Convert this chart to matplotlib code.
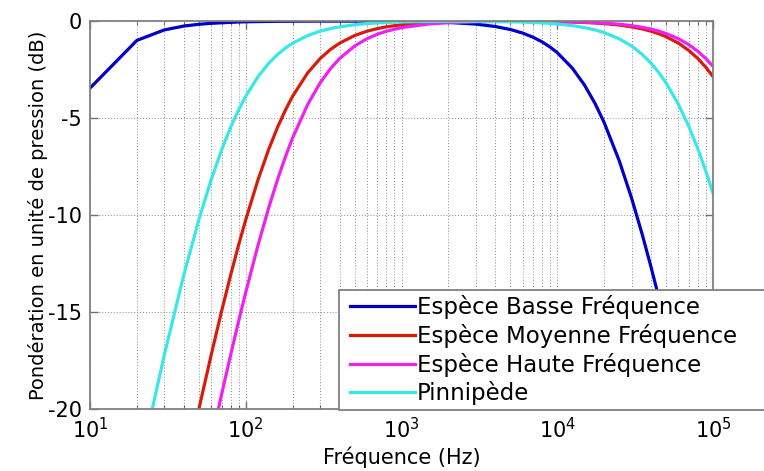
import matplotlib
matplotlib.use("Agg")
import matplotlib.pyplot as plt
from matplotlib.lines import Line2D
from matplotlib.legend_handler import HandlerLine2D
from matplotlib.ticker import LogLocator, NullFormatter, FixedLocator, FixedFormatter

# ---- data ----
freq_hz = [10, 20, 30, 40, 50, 60, 70, 80, 90,
           100, 120, 140, 160, 180, 200, 250, 300, 350, 400, 500, 600, 700, 800,
           1000, 1500, 2000, 3000, 4000, 5000, 6000, 7000, 8000, 9000,
           10000, 12500, 15000, 17500, 20000, 25000, 30000, 35000, 40000, 45000,
           50000, 60000, 70000, 80000, 90000, 100000]

lf_db = [-3.46, -1.00, -0.46, -0.26, -0.17, -0.12, -0.09, -0.07, -0.05,
         -0.04, -0.03, -0.022, -0.017, -0.013, -0.011, -0.007, -0.005, -0.006,
         -0.006, -0.006, -0.008, -0.010, -0.012,
         -0.018, -0.041, -0.072, -0.160, -0.283, -0.438, -0.623, -0.838, -1.079, -1.344,
         -1.631, -2.430, -3.316, -4.258, -5.232, -7.202, -9.126, -10.958, -12.68,
         -14.293, -15.80, -18.52, -20.93, -23.06, -24.98, -26.71]

mf_db = [-47.08, -35.16, -28.30, -23.56, -20.00, -17.21, -14.95, -13.09, -11.54,
         -10.24, -8.173, -6.641, -5.478, -4.581, -3.876, -2.671, -1.938, -1.465,
         -1.143, -0.749, -0.527, -0.390, -0.300,
         -0.194, -0.087, -0.050, -0.025, -0.018, -0.016, -0.018, -0.021, -0.025, -0.030,
         -0.036, -0.054, -0.077, -0.104, -0.135, -0.210, -0.300, -0.406, -0.527,
         -0.661, -0.809, -1.143, -1.521, -1.938, -2.388, -2.864]

hf_db = [-52.06, -40.09, -33.15, -28.30, -24.61, -21.66, -19.24, -17.21, -15.47,
         -13.98, -11.545, -9.660, -8.173, -6.984, -6.021, -4.297, -3.194, -2.454,
         -1.938, -1.289, -0.915, -0.682, -0.527,
         -0.341, -0.154, -0.088, -0.041, -0.026, -0.021, -0.019, -0.020, -0.023, -0.026,
         -0.030, -0.044, -0.062, -0.083, -0.107, -0.166, -0.238, -0.322, -0.419,
         -0.527, -0.646, -0.915, -1.223, -1.566, -1.938, -2.336]

pw_db = [-35.16, -23.56, -17.21, -13.09, -10.24, -8.173, -6.641, -5.478, -4.581,
         -3.876, -2.864, -2.192, -1.725, -1.390, -1.143, -0.749, -0.527, -0.390,
         -0.300, -0.193, -0.135, -0.099, -0.076,
         -0.050, -0.025, -0.018, -0.019, -0.028, -0.041, -0.057, -0.076, -0.099, -0.125,
         -0.154, -0.238, -0.341, -0.460, -0.597, -0.915, -1.289, -1.711, -2.174,
         -2.671, -3.194, -4.297, -5.442, -6.599, -7.748, -8.874]

series_labels = ["Espèce Basse Fréquence", "Espèce Moyenne Fréquence",
                 "Espèce Haute Fréquence", "Pinnipède"]
series_colors = ["#0000c8", "#d81c0c", "#f020f0", "#38e8e8"]

x_ticks = [10, 100, 1000, 10000, 100000]
x_tick_labels = [r"$10^{1}$", r"$10^{2}$", r"$10^{3}$", r"$10^{4}$", r"$10^{5}$"]
y_ticks = [-20, -15, -10, -5, 0]
y_tick_labels = ["-20", "-15", "-10", "-5", "0"]

x_label = "Fréquence (Hz)"
y_label = "Pondération en unité de pression (dB)"

# ---- figure ----
plt.rcParams["font.family"] = ["DejaVu Sans"]
plt.rcParams["axes.unicode_minus"] = False

W, H = 764, 471
fig = plt.figure(figsize=(W / 100, H / 100), dpi=100)
ax = fig.add_axes([90 / W, 1 - 409 / H, (713 - 90) / W, (409 - 21) / H])

for ys, lab, col in zip([lf_db, mf_db, hf_db, pw_db], series_labels, series_colors):
    ax.plot(freq_hz, ys, color=col, lw=2.3, label=lab, solid_joinstyle="round")

ax.set_xscale("log")
ax.set_xlim(10, 1e5)
ax.set_ylim(-20, 0)

ax.xaxis.set_major_locator(FixedLocator(x_ticks))
ax.xaxis.set_major_formatter(FixedFormatter(x_tick_labels))
ax.xaxis.set_minor_locator(LogLocator(base=10, subs=range(2, 10), numticks=20))
ax.xaxis.set_minor_formatter(NullFormatter())
ax.yaxis.set_major_locator(FixedLocator(y_ticks))
ax.yaxis.set_major_formatter(FixedFormatter(y_tick_labels))

gstyle = dict(linestyle=(0, (1, 2)), color="#8a8a8a", lw=0.7)
ax.grid(True, which="major", axis="both", **gstyle)
ax.grid(True, which="minor", axis="x", **gstyle)

ax.tick_params(which="both", direction="in", top=True, right=True, colors="#707070",
               labelcolor="black")
ax.tick_params(which="major", length=6, width=1)
ax.tick_params(which="minor", length=3, width=0.8)
ax.tick_params(axis="y", labelsize=15, pad=6)
ax.tick_params(axis="x", labelsize=15, pad=6)

for sp in ax.spines.values():
    sp.set_color("#808080")
    sp.set_linewidth(1.3)

ax.set_xlabel(x_label, fontsize=15, labelpad=3)
ax.set_ylabel(y_label, fontsize=14, labelpad=0)

leg = ax.legend(loc="lower left",
                bbox_to_anchor=(339 / W, 1 - 410 / H, (790 - 339) / W, 0.05),
                bbox_transform=fig.transFigure, mode="expand", borderaxespad=0,
                fontsize=16.5, handlelength=3.1, handletextpad=0.1,
                labelspacing=0.21, borderpad=0.2, fancybox=False, framealpha=1,
                handler_map={Line2D: HandlerLine2D(xpad=0.3)})
leg.get_frame().set_edgecolor("#808080")
leg.get_frame().set_linewidth(1.3)
for l in leg.get_lines():
    l.set_linewidth(2.3)

fig.savefig("out.png", dpi=100, facecolor="white")
